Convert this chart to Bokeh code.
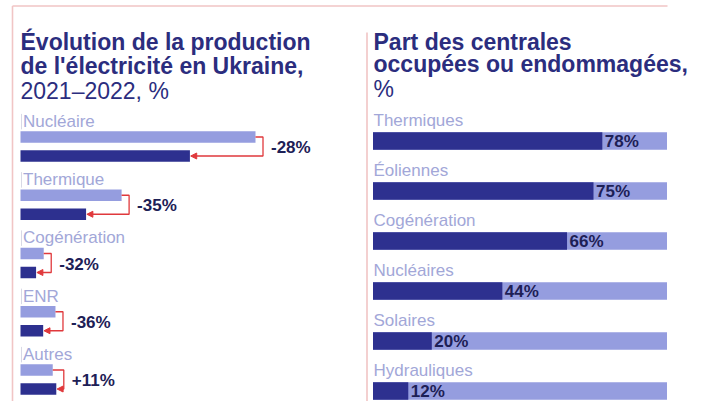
import numpy as np
from bokeh.plotting import figure
from bokeh.models import Range1d, ColumnDataSource, Arrow, NormalHead
from bokeh.embed import file_html
from bokeh.resources import INLINE
from bokeh.core.properties import value

# ---------------- data ----------------
prod_categories = ["Nucléaire", "Thermique", "Cogénération", "ENR", "Autres"]
prod_2021 = [86.0, 37.0, 8.5, 12.8, 11.8]
prod_2022 = [62.0, 24.0, 5.7, 8.3, 13.1]
prod_change_labels = ["-28%", "-35%", "-32%", "-36%", "+11%"]

plant_categories = ["Thermiques", "Éoliennes", "Cogénération", "Nucléaires", "Solaires", "Hydrauliques"]
plant_share = [78, 75, 66, 44, 20, 12]
plant_share_labels = ["78%", "75%", "66%", "44%", "20%", "12%"]

left_title = ["Évolution de la production", "de l'électricité en Ukraine,"]
left_subtitle = "2021–2022, %"
right_title = ["Part des centrales", "occupées ou endommagées,"]
right_subtitle = "%"

# ---------------- style ----------------
FONT = value("Liberation Sans")
DARK = "#2d308f"
LIGHT = "#959ddf"
TITLE = "#2b2d7e"
LABEL = "#a2a7d8"
VALTXT = "#1d2056"
RED = "#e0393c"
PINK = "#f1c5c5"

W, H = 708, 401
X0, X1 = 0, 708          # layout frame in pixels
Y_TOP, Y_BOT = 0, 401

p = figure(width=W, height=H, x_range=Range1d(X0, X1), y_range=Range1d(Y_BOT, Y_TOP),
           output_backend="svg", toolbar_location=None, min_border=0,
           x_axis_location=None, y_axis_location=None)
p.grid.visible = False
p.outline_line_color = None
p.background_fill_color = "white"
p.border_fill_color = "white"

# left panel scales
L_ORIG, L_K = 20.0, 235.0 / 86.0          # value axis origin (px) and px per unit
L_ROW0, L_STEP = 136.5, 58.25
p.extra_x_ranges["val"] = Range1d((X0 - L_ORIG) / L_K, (X1 - L_ORIG) / L_K)
p.extra_y_ranges["lrow"] = Range1d((Y_BOT - L_ROW0) / L_STEP, (Y_TOP - L_ROW0) / L_STEP)

# right panel scales
R_ORIG, R_K = 372.5, 2.94
R_ROW0, R_STEP = 140.5, 50.0
p.extra_x_ranges["pct"] = Range1d((X0 - R_ORIG) / R_K, (X1 - R_ORIG) / R_K)
p.extra_y_ranges["rrow"] = Range1d((Y_BOT - R_ROW0) / R_STEP, (Y_TOP - R_ROW0) / R_STEP)

# ---------------- frame lines ----------------
p.segment(x0=[12, 12, 366.5], y0=[5.5, 5.5, 32], x1=[667, 12, 366.5], y1=[5.5, 401, 401],
          line_color=PINK, line_width=1.6)

# ---------------- titles ----------------
for txt, yc in zip(left_title, [41.8, 65.3]):
    p.text(x=[20], y=[yc], text=[txt], text_font=FONT, text_font_size="23px",
           text_font_style="bold", text_color=TITLE, text_baseline="middle")
p.text(x=[20], y=[90.8], text=[left_subtitle], text_font=FONT, text_font_size="23px",
       text_color=TITLE, text_baseline="middle")
for txt, yc in zip(right_title, [41.3, 63.3]):
    p.text(x=[373], y=[yc], text=[txt], text_font=FONT, text_font_size="23px",
           text_font_style="bold", text_color=TITLE, text_baseline="middle")
p.text(x=[373], y=[88.8], text=[right_subtitle], text_font=FONT, text_font_size="23px",
       text_color=TITLE, text_baseline="middle")

# ---------------- left panel ----------------
n = len(prod_categories)
li = np.arange(n, dtype=float)
a = np.array(prod_2021)
b = np.array(prod_2022)
d = 19.0 / L_STEP
lab_off = 15.6 / L_STEP

# thin guide beside each label
p.segment(x0=[1.0 / L_K] * n, x1=[1.0 / L_K] * n, y0=li - lab_off - 7.5 / L_STEP,
          y1=li - lab_off + 8.0 / L_STEP, line_color="#d8d9e6", line_width=1,
          x_range_name="val", y_range_name="lrow")

p.text(x=[0] * n, y=li - lab_off, text=prod_categories, x_offset=2.5,
       text_font=FONT, text_font_size="17px", text_color=LABEL, text_baseline="middle",
       x_range_name="val", y_range_name="lrow")

p.hbar(y=li, left=0, right=a, height=11.5 / L_STEP, fill_color=LIGHT, line_color=None,
       x_range_name="val", y_range_name="lrow")
p.hbar(y=li + d, left=0, right=b, height=11.5 / L_STEP, fill_color=DARK, line_color=None,
       x_range_name="val", y_range_name="lrow")

xb = np.maximum(a, b) + 7.5 / L_K
xs = [[a[k], xb[k], xb[k], b[k] + 5.0 / L_K] for k in range(n)]
ys = [[li[k], li[k], li[k] + d, li[k] + d] for k in range(n)]
p.multi_line(xs=xs, ys=ys, line_color=RED, line_width=1.3,
             x_range_name="val", y_range_name="lrow")
asrc = ColumnDataSource(dict(x0=b + 6.0 / L_K, x1=b + 0.8 / L_K, y=li + d))
p.add_layout(Arrow(end=NormalHead(size=6, fill_color=RED, line_color=RED, line_width=1),
                   x_start="x0", y_start="y", x_end="x1", y_end="y", source=asrc,
                   line_color=RED, line_width=1.3, x_range_name="val", y_range_name="lrow"))

p.text(x=xb, y=li + d / 2 + 1.0 / L_STEP, x_offset=8, text=prod_change_labels,
       text_font=FONT, text_font_size="17px", text_font_style="bold", text_color=VALTXT,
       text_baseline="middle", x_range_name="val", y_range_name="lrow")

# ---------------- right panel ----------------
m = len(plant_categories)
ri = np.arange(m, dtype=float)
p.text(x=[0] * m, y=ri - 20.6 / R_STEP, text=plant_categories, x_offset=0.5,
       text_font=FONT, text_font_size="17px", text_color=LABEL, text_baseline="middle",
       x_range_name="pct", y_range_name="rrow")
p.hbar(y=ri, left=0, right=[100] * m, height=17.5 / R_STEP, fill_color=LIGHT, line_color=None,
       x_range_name="pct", y_range_name="rrow")
p.hbar(y=ri, left=0, right=plant_share, height=17.5 / R_STEP, fill_color=DARK, line_color=None,
       x_range_name="pct", y_range_name="rrow")
p.text(x=plant_share, y=ri + 0.5 / R_STEP, x_offset=2.5, text=plant_share_labels,
       text_font=FONT, text_font_size="17px", text_font_style="bold", text_color=VALTXT,
       text_baseline="middle", x_range_name="pct", y_range_name="rrow")

open("out.html", "w").write(file_html(p, INLINE))
